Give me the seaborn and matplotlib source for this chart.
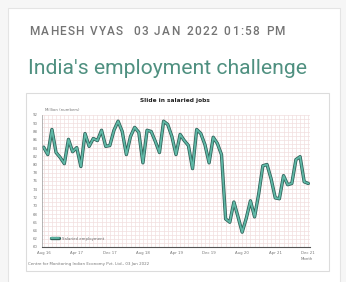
import matplotlib
matplotlib.use("Agg")
import matplotlib.pyplot as plt
import matplotlib.patheffects as pe
from matplotlib.patches import Rectangle
import seaborn as sns
import pandas as pd
import numpy as np

# ---- data ----
months = list(range(65))  # Aug 2016 .. Dec 2021
salaried = [84.2, 82.4, 88.5, 82.9, 81.7, 80.2, 86.1, 83.1, 84.1, 79.5,
            87.5, 84.4, 86.3, 85.8, 88.3, 84.4, 84.6, 88.3, 90.5, 88.0,
            82.4, 86.8, 89.0, 87.8, 80.4, 88.3, 88.0, 85.6, 82.9, 90.5,
            89.7, 86.8, 82.4, 87.3, 85.8, 84.6, 79.0, 88.5, 87.5, 84.8,
            80.4, 86.6, 85.1, 82.4, 66.8, 66.0, 70.9, 67.3, 63.6, 67.0,
            71.2, 67.3, 72.9, 79.7, 80.0, 76.5, 71.9, 71.7, 77.3, 75.1,
            75.4, 81.2, 81.9, 75.8, 75.4]
xtick_pos = [0, 8, 16, 24, 32, 40, 48, 56, 64]
xtick_labels = ["Aug 16", "Apr 17", "Dec 17", "Aug 18", "Apr 19",
                "Dec 19", "Aug 20", "Apr 21", "Dec 21"]
ytick_vals = list(range(60, 93, 2))

author = "MAHESH VYAS"
date_text = "03 JAN 2022 01:58 PM"
headline = "India's employment challenge"
chart_title = "Slide in salaried jobs"
unit_label = "Million (numbers)"
legend_label = "Salaried employment"
source = "Centre for Monitoring Indian Economy Pvt. Ltd., 03 Jan 2022"

df = pd.DataFrame({"month": months, "value": salaried})

sns.set_theme(style="white")
plt.rcParams['font.family'] = ['DejaVu Sans']

W, H = 346, 282
fig = plt.figure(figsize=(W / 100, H / 100), dpi=100)
fig.patch.set_facecolor("#f6f6f6")

def px_rect(x0, y0, x1, y1, **kw):
    return Rectangle((x0 / W, 1 - y1 / H), (x1 - x0) / W, (y1 - y0) / H,
                     transform=fig.transFigure, **kw)

# card and chart image box (behind the axes)
fig.patches.append(px_rect(8, 8, 340, 290, facecolor="white", edgecolor="#e4e4e4",
                           lw=0.8, zorder=-10))
fig.patches.append(px_rect(26, 93, 329, 271, facecolor="white", edgecolor="#dcdcdc",
                           lw=0.8, zorder=-9))

# header with slight letter spacing
renderer = fig.canvas.get_renderer()
hdr_kw = dict(fontsize=8.5, color="#747474", va="center", ha="left",
              family="Roboto", fontweight="medium")

def spaced(text, x0, x1, y):
    widths = []
    for ch in text:
        t = fig.text(0, 0, ch if ch != " " else "n", **hdr_kw)
        bb = t.get_window_extent(renderer=renderer)
        widths.append(bb.width if ch != " " else bb.width * 0.5)
        t.remove()
    sp = (x1 - x0 - sum(widths)) / (len(text) - 1)
    x = x0
    for ch, w in zip(text, widths):
        if ch != " ":
            fig.text(x / W, 1 - y / H, ch, **hdr_kw)
        x += w + sp

spaced(author, 29, 123, 32)
spaced(date_text, 133, 285, 32)

fig.text(28 / W, 1 - 69 / H, headline, fontsize=15.2, color="#4f9080",
         va="center", ha="left", family="Roboto")
fig.text(175 / W, 1 - 100 / H, chart_title, fontsize=4.2, color="#222222",
         va="center", ha="center", fontweight="bold")
fig.text(45 / W, 1 - 110 / H, unit_label, fontsize=2.8, color="#777777",
         va="center", ha="left")
fig.text(28 / W, 1 - 264 / H, source, fontsize=2.9, color="#777777",
         va="center", ha="left")
fig.text(307 / W, 1 - 259 / H, "Month", fontsize=2.8, color="#777777",
         va="center", ha="center")

ax = fig.add_axes([42 / W, 1 - 247 / H, 268 / W, 132 / H])
ax.set_zorder(5)
ax.set_facecolor("white")

sns.lineplot(data=df, x="month", y="value", ax=ax, color="#5fb8a6", lw=1.3,
             label=legend_label,
             path_effects=[pe.Stroke(linewidth=2.4, foreground="#2e5e56"), pe.Normal()])

ax.set_xlim(-0.4, 64.4)
ax.set_ylim(60, 92)
ax.set_xticks(xtick_pos)
ax.set_xticklabels(xtick_labels)
ax.set_yticks(ytick_vals)
ax.set_yticklabels([str(v) for v in ytick_vals])
ax.set_xticks(months, minor=True)
ax.set_yticks(np.arange(60, 92.01, 1), minor=True)
ax.grid(True, which="both", color="#f1dede", lw=0.5)
ax.set_axisbelow(True)
ax.tick_params(axis="both", which="major", labelsize=2.8, colors="#777777",
               length=1.5, width=0.4, pad=1.5)
ax.tick_params(axis="both", which="minor", length=0)
ax.set_xlabel("")
ax.set_ylabel("")
for s in ["top", "right"]:
    ax.spines[s].set_visible(False)
ax.spines["left"].set_color("#999999")
ax.spines["left"].set_linewidth(0.5)
ax.spines["bottom"].set_color("#555555")
ax.spines["bottom"].set_linewidth(0.8)

leg = ax.legend(loc="lower left", fontsize=2.8, frameon=False,
                handlelength=2.0, bbox_to_anchor=(0.02, 0.02))
for t in leg.get_texts():
    t.set_color("#666666")

fig.savefig("out.png", dpi=100, facecolor=fig.get_facecolor())
